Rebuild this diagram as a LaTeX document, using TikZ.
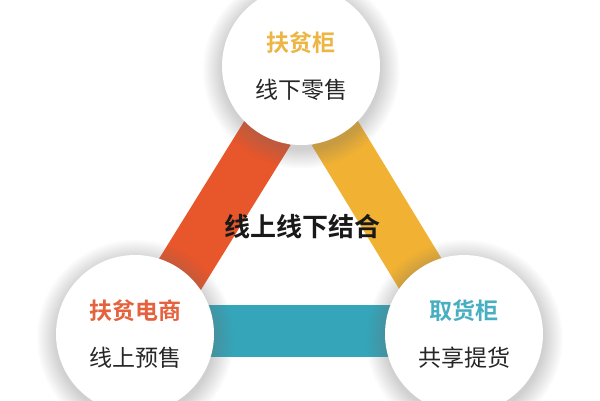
\documentclass[tikz,border=0pt]{standalone}
\usepackage{fontspec}
\setmainfont{Noto Sans CJK SC}[BoldFont={Noto Sans CJK SC Bold}]
\usetikzlibrary{backgrounds, shadows, fadings}
\definecolor{bandred}{HTML}{E8562B}
\definecolor{bandgold}{HTML}{F1B233}
\definecolor{bandteal}{HTML}{35A6BA}
\definecolor{titlered}{HTML}{E4623E}
\definecolor{titlegold}{HTML}{EDB543}
\definecolor{titleteal}{HTML}{48AFC2}
\tikzset{
  hub node/.style={
    circle,
    fill=white,
    minimum size=158pt,
    inner sep=0pt,
    align=center,
    text=black!85,
    font=\fontsize{23}{47}\selectfont,
    circular drop shadow={shadow xshift=0pt, shadow yshift=-3pt,
      shadow scale=1.25, fill=black!60, opacity=0.3,
      path fading=circle with fuzzy edge 20 percent},
  },
  hub band/.style={
    line width=52pt,
  },
}

\begin{document}
\begin{tikzpicture}[x=1pt, y=-1pt]
      \useasboundingbox (0,0) rectangle (600,400);

      \node[hub node] (gui)  at (301,066) {{\color{titlegold}\bfseries 扶贫柜}\\线下零售};
      \node[hub node] (shop) at (135,334) {{\color{titlered}\bfseries 扶贫电商}\\线上预售};
      \node[hub node] (pick) at (464,334) {{\color{titleteal}\bfseries 取货柜}\\共享提货};

      \node[font=\fontsize{26}{30}\selectfont\bfseries, text=black!90] (mix) at (302,227) {线上线下结合};

      \begin{scope}[on background layer]
        \fill[white] (0,0) rectangle (600,400);
        \draw[hub band, bandred, shorten <=77pt] ([xshift=8pt]gui.center) -- ([xshift=8pt]shop.center);
        \draw[hub band, bandgold, shorten <=77pt] ([xshift=-7pt]gui.center) -- ([xshift=-7pt]pick.center);
        \draw[hub band, bandteal] ([yshift=3pt]shop.center) -- ([yshift=3pt]pick.center);
      \end{scope}
    \end{tikzpicture}
\end{document}
